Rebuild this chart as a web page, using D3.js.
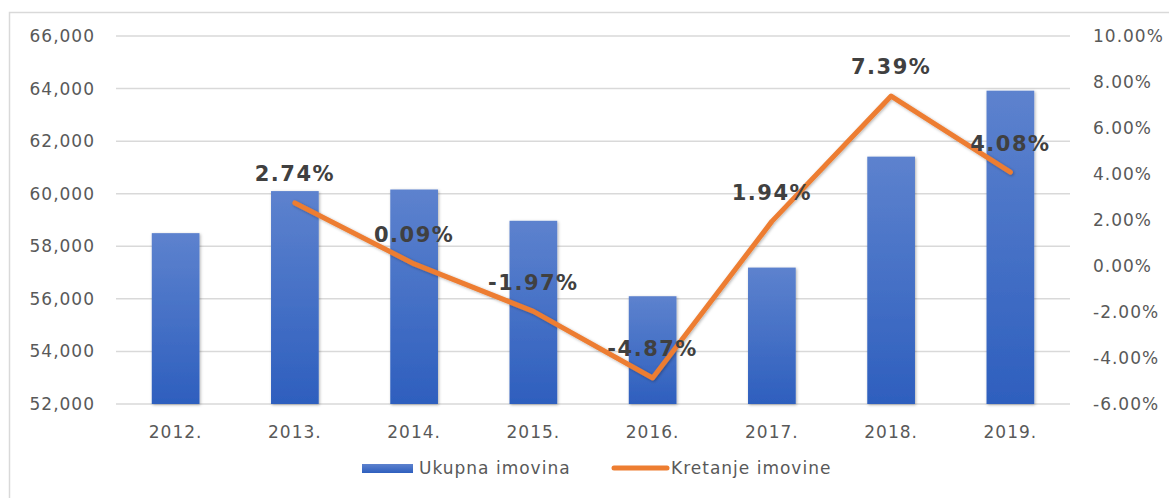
<!DOCTYPE html>
<html>
<head>
<meta charset="UTF-8">
<title>Ukupna imovina</title>
<script src="https://d3js.org/d3.v7.min.js"></script>
<style>
  body { margin: 0; background: #fff; }
  text { font-family: "DejaVu Sans", "Open Sans", sans-serif; }
  .tick-label { font-size: 17px; fill: #595959; letter-spacing: 1px; }
  .data-label { font-size: 21px; font-weight: bold; fill: #404040; letter-spacing: 1.5px; }
</style>
</head>
<body>
<svg id="chart" width="1169" height="498"></svg>
<script>
// data
const years = ["2012.", "2013.", "2014.", "2015.", "2016.", "2017.", "2018.", "2019."];
const assets = [58500, 60100, 60160, 58970, 56100, 57190, 61410, 63920];
const change = [null, 2.74, 0.09, -1.97, -4.87, 1.94, 7.39, 4.08];
const leftTicks = [52000, 54000, 56000, 58000, 60000, 62000, 64000, 66000];
const rightTicks = [-6, -4, -2, 0, 2, 4, 6, 8, 10];

const svg = d3.select("#chart");
const plotLeft = 116, plotRight = 1070, plotTop = 36, plotBottom = 404;

// outer frame
svg.append("rect")
    .attr("x", 9.5).attr("y", 12.5)
    .attr("width", 1180).attr("height", 500)
    .attr("fill", "none").attr("stroke", "#d9d9d9").attr("stroke-width", 1.5);

const defs = svg.append("defs");
const grad = defs.append("linearGradient")
    .attr("id", "barGrad").attr("x1", 0).attr("y1", 0).attr("x2", 0).attr("y2", 1);
grad.append("stop").attr("offset", "0%").attr("stop-color", "#5d82ce");
grad.append("stop").attr("offset", "100%").attr("stop-color", "#2e5fbe");

const shadow = defs.append("filter").attr("id", "shadow")
    .attr("x", "-20%").attr("y", "-20%").attr("width", "140%").attr("height", "140%");
shadow.append("feDropShadow")
    .attr("dx", 1).attr("dy", 1).attr("stdDeviation", 1.5)
    .attr("flood-color", "#000").attr("flood-opacity", 0.3);

const x = d3.scaleBand().domain(years).range([plotLeft, plotRight]).paddingInner(0.6).paddingOuter(0.3);
const y = d3.scaleLinear().domain([52000, 66000]).range([plotBottom, plotTop]);
const y2 = d3.scaleLinear().domain([-6, 10]).range([plotBottom, plotTop]);

// gridlines
svg.append("g").selectAll("line")
    .data(leftTicks)
    .join("line")
    .attr("x1", plotLeft).attr("x2", plotRight)
    .attr("y1", d => y(d)).attr("y2", d => y(d))
    .attr("stroke", "#d9d9d9").attr("stroke-width", 1.5);

// left axis labels
svg.append("g").selectAll("text")
    .data(leftTicks)
    .join("text")
    .attr("class", "tick-label")
    .attr("x", 95).attr("y", d => y(d))
    .attr("dy", "0.35em")
    .attr("text-anchor", "end")
    .text(d => d3.format(",")(d));

// right axis labels
svg.append("g").selectAll("text")
    .data(rightTicks)
    .join("text")
    .attr("class", "tick-label")
    .attr("x", 1093).attr("y", d => y2(d))
    .attr("dy", "0.35em")
    .text(d => d.toFixed(2) + "%");

// category labels
svg.append("g").selectAll("text")
    .data(years)
    .join("text")
    .attr("class", "tick-label")
    .attr("x", d => x(d) + x.bandwidth() / 2).attr("y", 432)
    .attr("dy", "0.35em")
    .attr("text-anchor", "middle")
    .text(d => d);

// bars
svg.append("g").selectAll("rect")
    .data(assets)
    .join("rect")
    .attr("x", (d, i) => x(years[i]))
    .attr("y", d => y(d))
    .attr("width", x.bandwidth())
    .attr("height", d => plotBottom - y(d))
    .attr("fill", "url(#barGrad)")
    .attr("filter", "url(#shadow)");

// line
const pts = change.map((v, i) => ({ year: years[i], v: v })).filter(d => d.v !== null);
const line = d3.line()
    .x(d => x(d.year) + x.bandwidth() / 2)
    .y(d => y2(d.v));
svg.append("path")
    .datum(pts)
    .attr("d", line)
    .attr("fill", "none")
    .attr("stroke", "#ed7d31")
    .attr("stroke-width", 5)
    .attr("stroke-linejoin", "round")
    .attr("stroke-linecap", "round")
    .attr("filter", "url(#shadow)");

// data labels
svg.append("g").selectAll("text")
    .data(pts)
    .join("text")
    .attr("class", "data-label")
    .attr("x", d => x(d.year) + x.bandwidth() / 2)
    .attr("y", d => y2(d.v) - 29)
    .attr("dy", "0.35em")
    .attr("text-anchor", "middle")
    .text(d => d.v.toFixed(2) + "%");

// legend
const lg = svg.append("g");
lg.append("rect")
    .attr("x", 362).attr("y", 464).attr("width", 51).attr("height", 9)
    .attr("fill", "url(#barGrad)");
lg.append("text")
    .attr("class", "tick-label")
    .attr("x", 419).attr("y", 468).attr("dy", "0.35em")
    .text("Ukupna imovina");
lg.append("line")
    .attr("x1", 614).attr("x2", 667).attr("y1", 468).attr("y2", 468)
    .attr("stroke", "#ed7d31").attr("stroke-width", 5).attr("stroke-linecap", "round");
lg.append("text")
    .attr("class", "tick-label")
    .attr("x", 671).attr("y", 468).attr("dy", "0.35em")
    .text("Kretanje imovine");
</script>
</body>
</html>
